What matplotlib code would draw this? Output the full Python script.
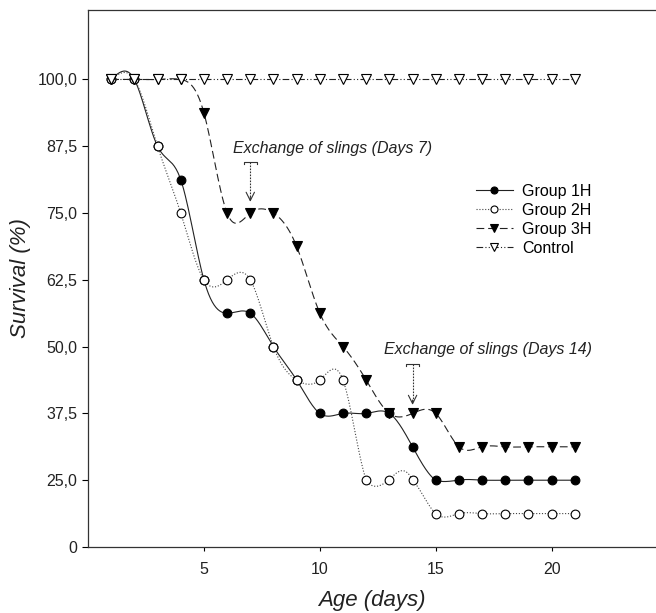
import numpy as np
import matplotlib
matplotlib.use("Agg")
from matplotlib import pyplot as plt
from matplotlib.lines import Line2D

plt.rcParams['font.family'] = ['Liberation Sans', 'DejaVu Sans']

days = list(range(1, 22))
group_1h = [100, 100, 87.5, 81.25, 62.5, 56.25, 56.25, 50, 43.75, 37.5, 37.5,
            37.5, 37.5, 31.25, 25, 25, 25, 25, 25, 25, 25]
group_2h = [100, 100, 87.5, 75, 62.5, 62.5, 62.5, 50, 43.75, 43.75, 43.75,
            25, 25, 25, 12.5, 12.5, 12.5, 12.5, 12.5, 12.5, 12.5]
group_3h = [100, 100, 100, 100, 93.75, 75, 75, 75, 68.75, 56.25, 50,
            43.75, 37.5, 37.5, 37.5, 31.25, 31.25, 31.25, 31.25, 31.25, 31.25]
control = [100] * 21

ytick_vals = [0, 25, 37.5, 50, 62.5, 75, 87.5, 100]
ytick_labels = ["0", "25,0", "37,5", "50,0", "62,5", "75,0", "87,5", "100,0"]
xtick_vals = [5, 10, 15, 20]

exchange_days = [7, 14]
exchange_texts = ["Exchange of slings (Days 7)", "Exchange of slings (Days 14)"]


def spline(x, y, n=25):
    # natural cubic spline, only for drawing the smooth connecting line
    x = np.asarray(x, float)
    y = np.asarray(y, float)
    m = len(x)
    h = np.diff(x)
    A = np.zeros((m, m))
    r = np.zeros(m)
    A[0, 0] = 1
    A[-1, -1] = 1
    for i in range(1, m - 1):
        A[i, i - 1] = h[i - 1]
        A[i, i] = 2 * (h[i - 1] + h[i])
        A[i, i + 1] = h[i]
        r[i] = 6 * ((y[i + 1] - y[i]) / h[i] - (y[i] - y[i - 1]) / h[i - 1])
    M = np.linalg.solve(A, r)
    xs, ys = [], []
    for i in range(m - 1):
        t = np.linspace(x[i], x[i + 1], n, endpoint=(i == m - 2))
        a = (x[i + 1] - t) / h[i]
        b = (t - x[i]) / h[i]
        s = (a * y[i] + b * y[i + 1]
             + ((a ** 3 - a) * M[i] + (b ** 3 - b) * M[i + 1]) * h[i] ** 2 / 6)
        xs.append(t)
        ys.append(s)
    return np.concatenate(xs), np.concatenate(ys)


def fwd(y):
    y = np.asarray(y, float)
    return np.where(y < 25, y / 2, y - 12.5)


def inv(t):
    t = np.asarray(t, float)
    return np.where(t < 12.5, t * 2, t + 12.5)


fig = plt.figure(figsize=(6.56, 6.13), dpi=100)
ax = fig.add_axes([88 / 656, 1 - 547 / 613, 568 / 656, 537 / 613])
ax.set_yscale('function', functions=(fwd, inv))

series = [
    ("Group 1H", group_1h, '-', 'o', 'black', '#222222'),
    ("Group 2H", group_2h, (0, (1, 1.6)), 'o', 'white', '#444444'),
    ("Group 3H", group_3h, (0, (7, 3.5)), 'v', 'black', '#222222'),
    ("Control", control, (0, (6, 2, 1, 2, 1, 2)), 'v', 'white', '#222222'),
]

handles = []
for name, vals, ls, mk, fc, lc in series:
    xs, ys = spline(days, vals)
    ax.plot(xs, ys, linestyle=ls, color=lc, lw=0.8)
    ms = 6.3 if mk == 'o' else 6.8
    ax.plot(days, vals, linestyle='none', marker=mk, ms=ms, mfc=fc,
            mec='black', mew=0.8)
    handles.append(Line2D([], [], linestyle=ls, color=lc, lw=0.8, marker=mk,
                          ms=ms * 0.8, mfc=fc, mec='black', mew=0.8))

# exchange-of-slings annotations
text_pos = [(10.54, 87.1), (17.26, 49.4)]
bracket_y = [84.6, 46.8]
tip_y = [77.1, 39.1]
for d, txt, (tx, ty), by, tyy in zip(exchange_days, exchange_texts, text_pos,
                                      bracket_y, tip_y):
    ax.text(tx, ty, txt, ha='center', va='center', style='italic',
            fontsize=11.5, color='#222222')
    ax.plot([d - 0.27, d - 0.27, d + 0.27, d + 0.27],
            [by - 0.4, by, by, by - 0.4], color='#333333', lw=0.8)
    ax.plot([d, d], [by, tyy + 0.6], linestyle=(0, (1.5, 1.2)),
            color='#333333', lw=0.8)
    ax.annotate('', xy=(d, tyy), xytext=(d, tyy + 0.9),
                arrowprops=dict(arrowstyle='->,head_length=0.3,head_width=0.15',
                                color='#333333', lw=0.8, mutation_scale=20,
                                shrinkA=0, shrinkB=0))

ax.legend(handles, [s[0] for s in series], loc='upper left',
          bbox_to_anchor=(0.683, 0.676), frameon=False, fontsize=11.5,
          handlelength=2.3, handletextpad=0.6, labelspacing=0.25,
          borderpad=0, borderaxespad=0)

ax.set_xlim(0, 24.5)
ax.set_ylim(0, 113)
ax.set_xticks(xtick_vals)
ax.set_yticks(ytick_vals)
ax.set_yticklabels(ytick_labels)
ax.minorticks_off()
ax.tick_params(axis='y', direction='out', length=4, width=0.8, pad=3.5,
               labelsize=11.5, labelcolor='#222222')
ax.tick_params(axis='x', direction='out', length=3, width=0.8, pad=8,
               labelsize=11.5, labelcolor='#222222')
ax.spines['right'].set_visible(False)
for s in ['left', 'bottom', 'top']:
    ax.spines[s].set_linewidth(0.9)
    ax.spines[s].set_color('#333333')

ax.set_xlabel('Age (days)', fontsize=16, style='italic', labelpad=9,
              color='#222222')
ax.set_ylabel('Survival (%)', fontsize=16, style='italic', labelpad=5,
              color='#222222')

fig.savefig('out.png', dpi=100)
